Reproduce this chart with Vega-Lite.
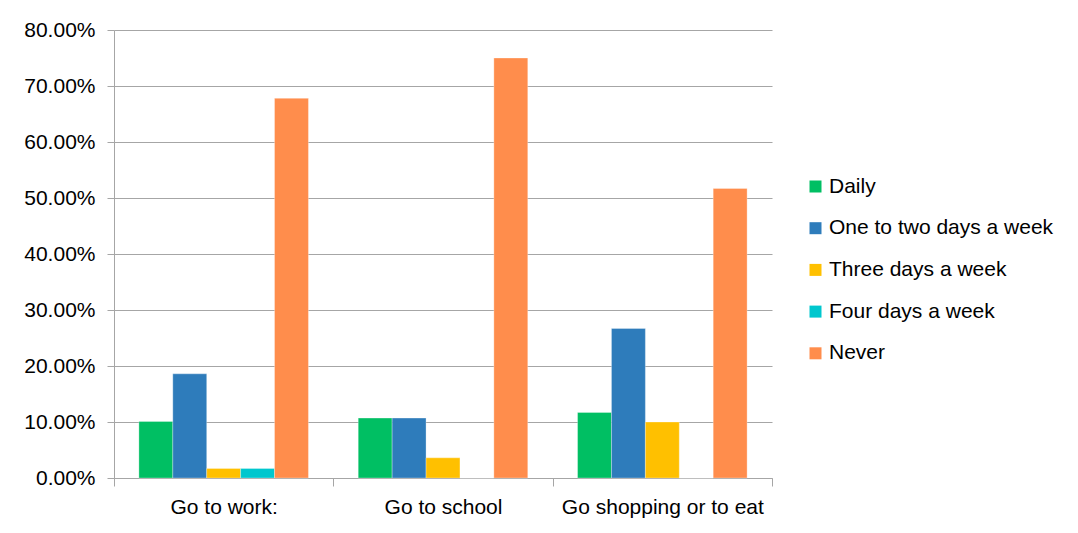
{
  "$schema": "https://vega.github.io/schema/vega-lite/v6.json",
  "autosize": {"type": "none"},
  "width": 658,
  "height": 448,
  "padding": {"left": 114, "top": 30, "right": 306, "bottom": 55},
  "background": "white",
  "data": {
    "values": [
      {"purpose": "Go to work:", "frequency": "Daily", "value": 0.101},
      {"purpose": "Go to work:", "frequency": "One to two days a week", "value": 0.186},
      {"purpose": "Go to work:", "frequency": "Three days a week", "value": 0.017},
      {"purpose": "Go to work:", "frequency": "Four days a week", "value": 0.017},
      {"purpose": "Go to work:", "frequency": "Never", "value": 0.678},
      {"purpose": "Go to school", "frequency": "Daily", "value": 0.107},
      {"purpose": "Go to school", "frequency": "One to two days a week", "value": 0.107},
      {"purpose": "Go to school", "frequency": "Three days a week", "value": 0.036},
      {"purpose": "Go to school", "frequency": "Four days a week", "value": 0},
      {"purpose": "Go to school", "frequency": "Never", "value": 0.75},
      {"purpose": "Go shopping or to eat", "frequency": "Daily", "value": 0.117},
      {"purpose": "Go shopping or to eat", "frequency": "One to two days a week", "value": 0.267},
      {"purpose": "Go shopping or to eat", "frequency": "Three days a week", "value": 0.1},
      {"purpose": "Go shopping or to eat", "frequency": "Four days a week", "value": 0},
      {"purpose": "Go shopping or to eat", "frequency": "Never", "value": 0.517}
    ]
  },
  "layer": [
    {
      "mark": {"type": "bar", "stroke": "white", "strokeWidth": 0.5, "strokeOpacity": 0.6},
      "encoding": {
        "x": {
          "field": "purpose",
          "type": "nominal",
          "sort": ["Go to work:", "Go to school", "Go shopping or to eat"],
          "scale": {"paddingInner": 0.227, "paddingOuter": 0.1135},
          "axis": null
        },
        "xOffset": {
          "field": "frequency",
          "type": "nominal",
          "sort": ["Daily", "One to two days a week", "Three days a week", "Four days a week", "Never"],
          "scale": {"paddingInner": 0, "paddingOuter": 0}
        },
        "y": {
          "field": "value",
          "type": "quantitative",
          "scale": {"domain": [0, 0.8], "nice": false},
          "axis": {
            "title": null,
            "format": ".2%",
            "values": [0, 0.1, 0.2, 0.3, 0.4, 0.5, 0.6, 0.7, 0.8],
            "labelFont": "Liberation Sans",
            "labelFontSize": 21,
            "labelColor": "#000000",
            "labelPadding": 12,
            "tickSize": 7,
            "tickColor": "#A6A6A6",
            "domainColor": "#A6A6A6",
            "gridColor": "#A6A6A6",
            "gridWidth": 1.2
          }
        },
        "color": {
          "field": "frequency",
          "type": "nominal",
          "sort": ["Daily", "One to two days a week", "Three days a week", "Four days a week", "Never"],
          "scale": {
            "domain": ["Daily", "One to two days a week", "Three days a week", "Four days a week", "Never"],
            "range": ["#00BF63", "#2E7CBB", "#FFC000", "#00C7CE", "#FF8D4C"]
          },
          "legend": {
            "title": null,
            "orient": "none",
            "legendX": 691,
            "legendY": 146,
            "padding": 0,
            "symbolType": "square",
            "symbolSize": 144,
            "symbolStrokeWidth": 0,
            "labelFont": "Liberation Sans",
            "labelFontSize": 21,
            "labelColor": "#000000",
            "labelOffset": 3,
            "labelLimit": 0,
            "rowPadding": 19.7
          }
        }
      }
    },
    {
      "mark": {"type": "tick", "opacity": 0},
      "encoding": {
        "x": {
          "field": "purpose",
          "type": "nominal",
          "sort": ["Go to work:", "Go to school", "Go shopping or to eat"],
          "scale": {"paddingInner": 0, "paddingOuter": 0},
          "axis": {
            "title": null,
            "labelAngle": 0,
            "labelFont": "Liberation Sans",
            "labelFontSize": 21,
            "labelColor": "#000000",
            "labelPadding": 10,
            "labelLimit": 0,
            "tickBand": "extent",
            "tickSize": 8,
            "tickColor": "#A6A6A6",
            "domainColor": "#A6A6A6",
            "grid": false
          }
        },
        "y": {"datum": 0, "type": "quantitative"}
      }
    }
  ],
  "resolve": {"scale": {"x": "independent"}},
  "config": {
    "view": {"stroke": null}
  }
}
